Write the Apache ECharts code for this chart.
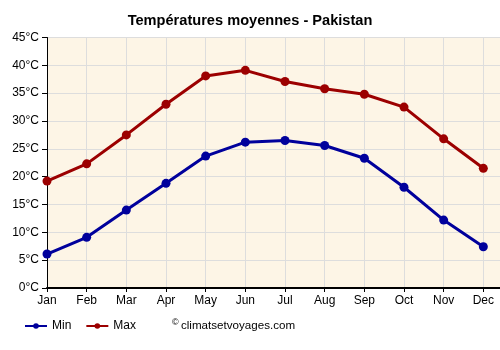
<!DOCTYPE html>
<html>
<head>
<meta charset="utf-8">
<script src="https://cdn.jsdelivr.net/npm/echarts@6/dist/echarts.min.js"></script>
<style>
  html, body { margin: 0; padding: 0; background: #fff; }
  #chart { width: 500px; height: 350px; }
</style>
</head>
<body>
<div id="chart"></div>
<script>
var months = ['Jan', 'Feb', 'Mar', 'Apr', 'May', 'Jun', 'Jul', 'Aug', 'Sep', 'Oct', 'Nov', 'Dec'];
var tMin = [6.1, 9.1, 14.0, 18.8, 23.7, 26.2, 26.5, 25.6, 23.3, 18.1, 12.2, 7.4];
var tMax = [19.2, 22.3, 27.5, 33.0, 38.1, 39.1, 37.1, 35.8, 34.8, 32.5, 26.8, 21.5];

var font = 'Arial, "Liberation Sans", sans-serif';

// pair each value with its month index for the value x axis
function pairs(arr) {
    return arr.map(function (v, i) { return [i, v]; });
}

var myChart = echarts.init(document.getElementById('chart'));

var option = {
    animation: false,
    textStyle: { fontFamily: font },
    title: {
        text: 'Températures moyennes - Pakistan',
        left: 'center',
        top: 8,
        textStyle: { fontSize: 14.6, fontWeight: 'bold', color: '#000', fontFamily: font }
    },
    grid: {
        left: 47,
        right: 0,
        top: 37.5,
        bottom: 62,
        show: true,
        backgroundColor: '#fdf5e6',
        borderWidth: 0
    },
    legend: {
        left: 24,
        top: 320,
        padding: 0,
        itemWidth: 22,
        itemHeight: 7,
        itemGap: 14,
        textStyle: { fontSize: 12, color: '#000', fontFamily: font },
        data: ['Min', 'Max']
    },
    graphic: [{
        type: 'text',
        left: 172,
        top: 318,
        style: { text: '©', fontSize: 9, fill: '#000', fontFamily: font }
    }, {
        type: 'text',
        left: 181,
        top: 320,
        style: { text: 'climatsetvoyages.com', fontSize: 11.6, fill: '#000', fontFamily: font }
    }],
    xAxis: {
        type: 'value',
        min: 0,
        max: 11.42,
        interval: 1,
        axisLine: { show: true, onZero: false, lineStyle: { color: '#000', width: 2 } },
        axisTick: { show: true, length: 4, inside: false, lineStyle: { color: '#000' } },
        axisLabel: {
            color: '#000',
            fontSize: 12,
            margin: 7,
            showMaxLabel: false,
            formatter: function (v) {
                return v === Math.round(v) ? months[v] : '';
            }
        },
        splitLine: { show: true, lineStyle: { color: '#dddddd', width: 1 } }
    },
    yAxis: {
        type: 'value',
        min: 0,
        max: 45,
        interval: 5,
        axisLine: { show: true, lineStyle: { color: '#000', width: 1 } },
        axisTick: { show: true, length: 5, lineStyle: { color: '#000' } },
        axisLabel: { color: '#000', fontSize: 12, margin: 8, formatter: '{value}°C' },
        splitLine: { show: true, lineStyle: { color: '#dddddd', width: 1 } }
    },
    series: [{
        name: 'Min',
        type: 'line',
        data: pairs(tMin),
        symbol: 'circle',
        symbolSize: 9,
        lineStyle: { color: '#00009c', width: 3 },
        itemStyle: { color: '#00009c' }
    }, {
        name: 'Max',
        type: 'line',
        data: pairs(tMax),
        symbol: 'circle',
        symbolSize: 9,
        lineStyle: { color: '#9c0000', width: 3 },
        itemStyle: { color: '#9c0000' }
    }]
};

myChart.setOption(option);
</script>
</body>
</html>
